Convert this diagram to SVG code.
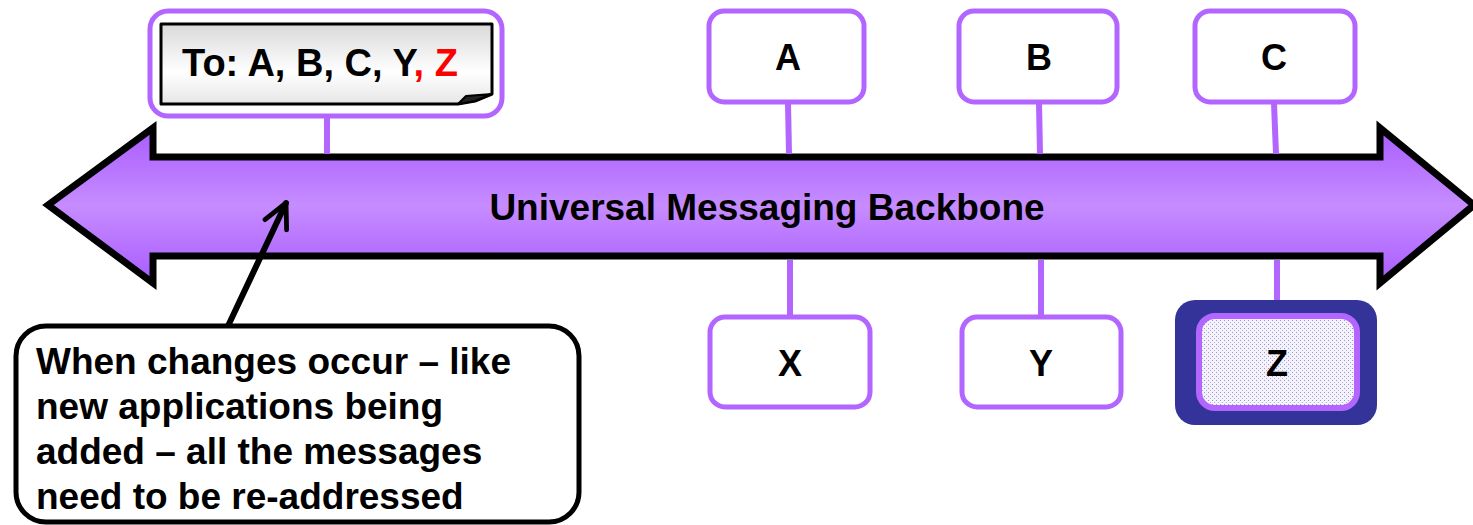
<svg xmlns="http://www.w3.org/2000/svg" width="1473" height="525" viewBox="0 0 1473 525">
<defs>
<linearGradient id="bb" x1="0" y1="0" x2="0" y2="1">
<stop offset="0" stop-color="#A95CFF"/>
<stop offset="0.5" stop-color="#C68CFF"/>
<stop offset="1" stop-color="#A95CFF"/>
</linearGradient>
<linearGradient id="note" x1="0" y1="0" x2="0" y2="1">
<stop offset="0" stop-color="#D9D9D9"/>
<stop offset="0.6" stop-color="#FFFFFF"/>
<stop offset="1" stop-color="#E6E6E6"/>
</linearGradient>
<pattern id="dots" width="4" height="4" patternUnits="userSpaceOnUse">
<rect width="4" height="4" fill="#F4F2FA"/>
<rect x="0" y="0" width="1" height="1" fill="#9A94CC"/>
<rect x="2" y="2" width="1" height="1" fill="#B4AEDD"/>
</pattern>
<marker id="open" viewBox="0 0 10 10" refX="9" refY="5" markerWidth="5" markerHeight="5" orient="auto" markerUnits="strokeWidth">
<path d="M1,1 L9,5 L1,9" fill="none" stroke="#000" stroke-width="1.6" stroke-linecap="round" stroke-linejoin="round"/>
</marker>
<style>
.lbl{font-family:"Liberation Sans",Arial,sans-serif;font-weight:bold;font-size:36px;fill:#000}
.big{font-size:37px}
.box{fill:#fff;stroke:#B366FF;stroke-width:5}
.link{stroke:#B366FF;stroke-width:6;fill:none}
</style>
</defs>
<g id="backbone">
<polygon points="48,205 153,128 153,157 1380,157 1380,128 1474,205 1380,283 1380,256 153,256 153,283" fill="url(#bb)" stroke="#000" stroke-width="7" stroke-linejoin="miter"/>
<text class="lbl big" x="767" y="220" text-anchor="middle">Universal Messaging Backbone</text>
</g>
<g id="connectors">
<line class="link" x1="327" y1="117" x2="327" y2="154"/>
<line class="link" x1="788" y1="103" x2="789" y2="154"/>
<line class="link" x1="1039" y1="103" x2="1040" y2="154"/>
<line class="link" x1="1274" y1="103" x2="1276" y2="154"/>
<line class="link" x1="790" y1="260" x2="790" y2="315"/>
<line class="link" x1="1041" y1="260" x2="1041" y2="315"/>
<line class="link" x1="1277" y1="260" x2="1277" y2="314"/>
<line x1="228" y1="326" x2="286" y2="203" stroke="#000" stroke-width="6" stroke-linecap="round" marker-end="url(#open)"/>
</g>
<g id="node-to">
<rect class="box" x="150" y="11" width="352" height="105" rx="18"/>
<path d="M161,24 H492 V94 L475,101 L458,104 H161 Z" fill="url(#note)" stroke="#000" stroke-width="3" stroke-linejoin="round"/>
<path d="M458,104 L466,96 L492,94 L475,101 Z" fill="#222" stroke="#000" stroke-width="2" stroke-linejoin="round"/>
<text class="lbl" x="182" y="76" style="font-size:38px">To: A, B, C, Y<tspan fill="#FF0000">, Z</tspan></text>
</g>
<g id="node-a">
<rect class="box" x="709" y="11" width="155" height="91" rx="15"/>
<text class="lbl" x="788" y="70" text-anchor="middle">A</text>
</g>
<g id="node-b">
<rect class="box" x="959" y="11" width="158" height="91" rx="15"/>
<text class="lbl" x="1039" y="70" text-anchor="middle">B</text>
</g>
<g id="node-c">
<rect class="box" x="1195" y="11" width="160" height="91" rx="15"/>
<text class="lbl" x="1274" y="70" text-anchor="middle">C</text>
</g>
<g id="node-x">
<rect class="box" x="710" y="317" width="160" height="90" rx="15"/>
<text class="lbl" x="790" y="376" text-anchor="middle">X</text>
</g>
<g id="node-y">
<rect class="box" x="962" y="317" width="159" height="90" rx="15"/>
<text class="lbl" x="1041" y="376" text-anchor="middle">Y</text>
</g>
<g id="node-z">
<rect x="1175" y="300" width="202" height="125" rx="20" fill="#333399"/>
<rect x="1199" y="316" width="158" height="92" rx="16" fill="url(#dots)" stroke="#B366FF" stroke-width="6"/>
<text class="lbl" x="1277" y="376" text-anchor="middle">Z</text>
</g>
<g id="callout">
<rect x="16" y="326" width="563" height="196" rx="30" fill="#fff" stroke="#000" stroke-width="5"/>
<text class="lbl big" x="36" y="374">When changes occur – like</text>
<text class="lbl big" x="36" y="419">new applications being</text>
<text class="lbl big" x="36" y="464">added – all the messages</text>
<text class="lbl big" x="36" y="509">need to be re-addressed</text>
</g>
</svg>
